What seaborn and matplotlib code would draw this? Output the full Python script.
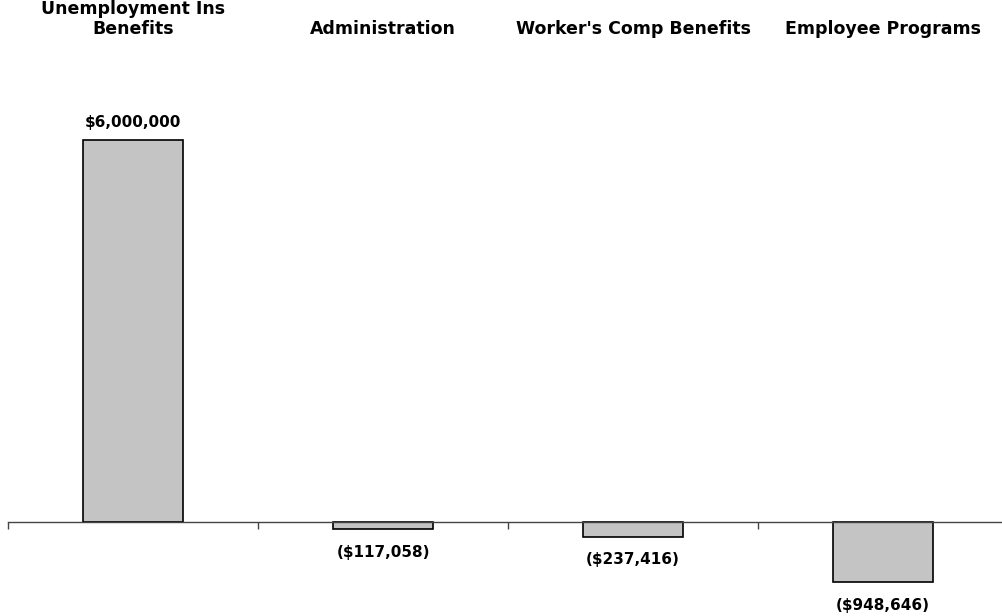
import seaborn as sns
import matplotlib.pyplot as plt
import pandas as pd
from matplotlib.ticker import FixedLocator

# Chart data.
categories = ['Unemployment Ins\nBenefits', 'Administration',
              "Worker's Comp Benefits", 'Employee Programs']
amounts = [6000000, -117058, -237416, -948646]
value_labels = ['$6,000,000', '($117,058)', '($237,416)', '($948,646)']

df = pd.DataFrame({'category': categories, 'amount': amounts})

sns.set_style('white')
plt.rcParams['font.family'] = ['DejaVu Sans']
plt.rcParams['text.color'] = 'black'
plt.rcParams['xtick.color'] = 'black'

fig = plt.figure(figsize=(10.03, 6.16), dpi=100)
ax = fig.add_axes([8 / 1003, 0, 1000 / 1003, 571 / 616])

sns.barplot(data=df, x='category', y='amount', color='#c4c4c4',
            saturation=1, width=0.4, edgecolor='black', linewidth=1.2, ax=ax)

ax.set_xlim(-0.5, 3.5)
ax.set_ylim(-1.476e6, 7.492e6)

# Category labels at the top, zero line with ticks between categories.
for side in ['top', 'left', 'right']:
    ax.spines[side].set_visible(False)
ax.spines['bottom'].set_position(('data', 0))
ax.spines['bottom'].set_color('#444444')
ax.spines['bottom'].set_linewidth(1)
ax.set_yticks([])
ax.set_xlabel('')
ax.set_ylabel('')
ax.tick_params(axis='x', which='major', bottom=False, top=False,
               labelbottom=False, labeltop=True, pad=1.3, labelsize=12.5)
for lbl in ax.get_xticklabels():
    lbl.set_fontweight('bold')
    lbl.set_color('black')
    lbl.set_linespacing(1.15)
ax.xaxis.set_minor_locator(FixedLocator([i - 0.5 for i in range(len(categories) + 1)]))
ax.tick_params(axis='x', which='minor', bottom=True, direction='out',
               length=5, width=1, color='#444444')

# Value labels.
for i, (v, txt) in enumerate(zip(amounts, value_labels)):
    if v >= 0:
        ax.annotate(txt, (i, v), xytext=(0, 7), textcoords='offset points',
                    ha='center', va='bottom', fontsize=11, fontweight='bold',
                    color='black')
    else:
        ax.annotate(txt, (i, v), xytext=(0, -11), textcoords='offset points',
                    ha='center', va='top', fontsize=11, fontweight='bold',
                    color='black')

fig.savefig('out.png', dpi=100)
